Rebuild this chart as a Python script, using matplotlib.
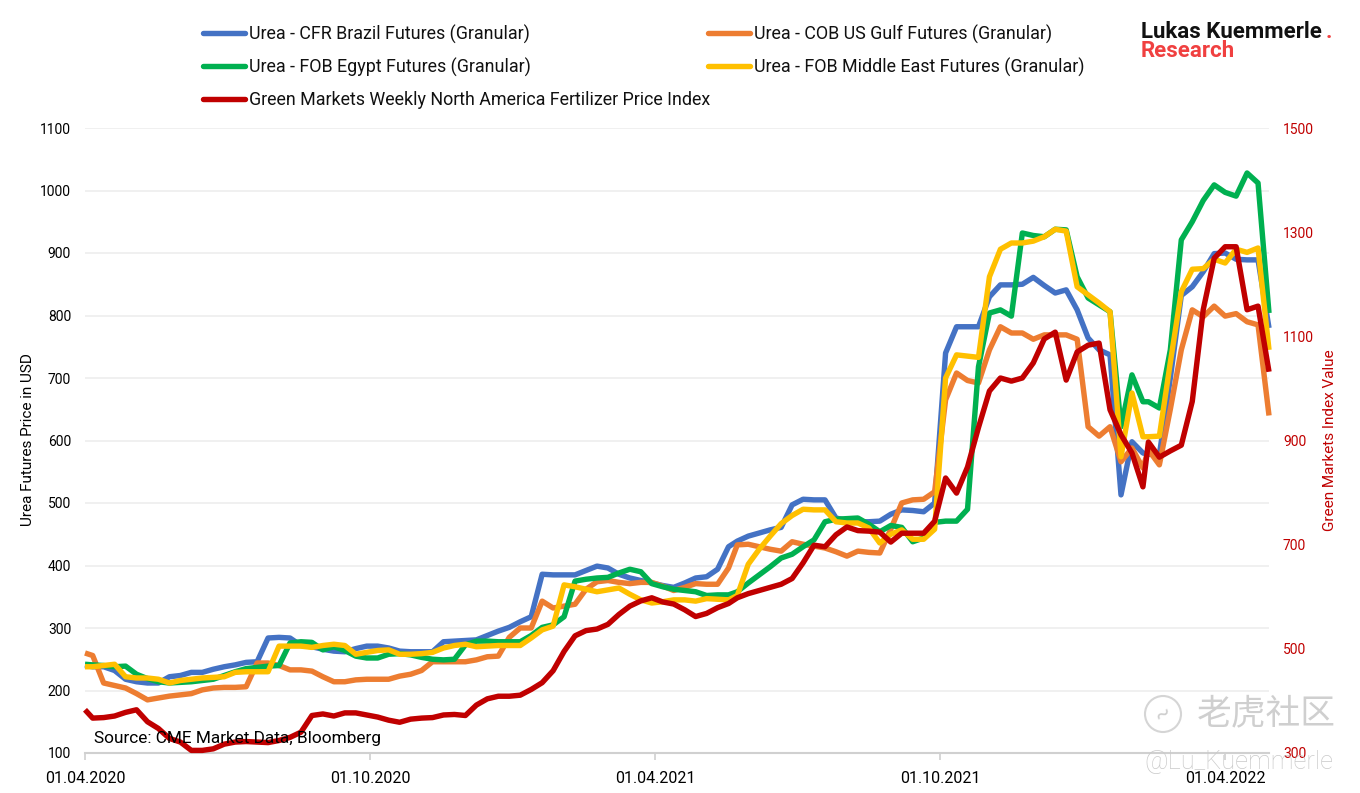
import numpy as np
import matplotlib
matplotlib.use("Agg")
import matplotlib.pyplot as plt
from matplotlib.lines import Line2D
from matplotlib.patches import Ellipse

plt.rcParams['font.family'] = ['Roboto', 'DejaVu Sans']

# weekly values
cfr_brazil = [240,238,238,232,218,214,212,212,222,224,229,229,234,238,241,245,246,284,285,284,
              272,270,266,263,262,267,271,271,268,263,262,262,262,278,279,280,281,288,295,301,
              310,318,386,385,385,385,392,399,396,386,380,376,372,368,365,372,380,382,394,430,
              439,447,452,457,461,497,506,505,505,476,472,470,470,471,482,489,488,486,500,740,
              782,782,782,830,849,849,850,861,848,836,841,809,764,745,737,513,598,580,578,577,
              700,832,846,870,899,900,890,889,889,780]
cob_gulf = [260,256,212,208,204,195,185,188,191,193,195,201,204,205,205,206,244,244,240,233,
            233,231,222,214,214,217,218,218,218,223,226,232,246,246,246,246,249,254,255,285,
            300,300,343,332,335,338,362,374,376,373,371,373,373,367,360,365,371,370,370,396,
            433,434,430,426,423,438,434,431,428,422,415,423,421,420,458,500,505,506,518,665,
            708,696,692,745,782,772,772,762,769,769,769,762,622,607,622,566,588,556,585,561,
            650,745,809,798,815,799,803,790,785,640]
fob_egypt = [242,241,240,238,239,226,219,214,212,213,214,216,218,224,230,235,237,239,240,276,
             278,277,265,270,264,255,252,252,258,259,257,253,250,249,250,273,279,279,278,278,
             278,288,301,305,318,375,378,380,381,388,394,390,371,366,362,360,358,352,353,353,
             358,372,385,398,412,418,430,441,470,474,475,476,466,454,464,461,438,444,469,471,
             471,490,718,804,809,799,932,928,926,938,937,862,828,817,806,622,705,662,662,652,
             745,921,950,984,1009,997,991,1028,1012,804]
fob_mideast = [238,238,240,242,222,220,220,218,212,216,218,220,221,222,229,230,230,230,271,271,
               271,269,272,274,272,258,261,264,265,258,258,259,261,268,272,274,270,271,272,272,
               272,284,297,303,369,366,362,358,361,364,354,345,340,342,345,345,343,347,346,345,
               352,402,426,447,467,480,490,489,489,470,468,468,460,436,450,457,442,442,458,700,
               737,735,733,862,906,916,916,919,926,938,935,846,833,820,806,574,676,606,606,607,
               725,838,874,875,890,884,906,901,908,745]
gm_index = [383,367,368,371,378,383,360,347,328,321,305,305,308,317,321,322,321,320,324,330,
            340,372,375,371,377,377,373,369,363,359,365,367,368,373,374,372,392,404,409,409,
            411,422,435,458,495,525,535,538,547,566,582,592,598,590,586,575,562,568,579,587,
            598,606,612,618,624,635,665,699,696,719,734,727,726,724,705,722,722,722,745,828,
            799,849,925,995,1020,1014,1020,1049,1095,1108,1016,1070,1083,1087,959,911,876,811,897,868,
            880,891,975,1151,1250,1272,1272,1151,1158,1032]

# the series are not quite evenly spaced against the date ticks
week_pos = np.r_[0, np.arange(1, 60) - 0.3, np.arange(60, 98) - 0.5, 97, np.arange(99, 110) - 1]

tick_weeks = [0, 26, 52, 78, 104]
tick_dates = ["01.04.2020", "01.10.2020", "01.04.2021", "01.10.2021", "01.04.2022"]
left_ticks = list(range(100, 1101, 100))
right_ticks = list(range(300, 1501, 200))

names = ["Urea - CFR Brazil Futures (Granular)", "Urea - COB US Gulf Futures (Granular)",
         "Urea - FOB Egypt Futures (Granular)", "Urea - FOB Middle East Futures (Granular)",
         "Green Markets Weekly North America Fertilizer Price Index"]
colors = ["#4472C4", "#ED7D31", "#00B050", "#FFC000", "#C00000"]
lw = 3.9
W, H = 1360., 793.

fig = plt.figure(figsize=(13.6, 7.93), dpi=100)
ax = fig.add_axes([85 / W, 1 - 753 / H, (1269 - 85) / W, (753 - 128) / H])

for y, c in zip([cfr_brazil, cob_gulf, fob_egypt, fob_mideast], colors):
    ax.plot(week_pos, y, color=c, lw=lw, solid_joinstyle='round', solid_capstyle='butt', clip_on=False, zorder=3)
ax.set_xlim(0, 108)
ax.set_ylim(100, 1100)
ax.set_yticks(left_ticks)
ax.set_xticks(tick_weeks)
ax.set_xticklabels(tick_dates)
ax.grid(axis='y', color='#efefef', lw=1.3)
ax.set_axisbelow(True)
for s in ['top', 'left', 'right']:
    ax.spines[s].set_visible(False)
ax.spines['bottom'].set_color('#d0d0d0')
ax.spines['bottom'].set_linewidth(1.5)
ax.tick_params(axis='y', length=0, labelsize=10, pad=10)
ax.tick_params(axis='x', length=5, color='#d0d0d0', width=1.2, labelsize=11.5, pad=8)

ax2 = ax.twinx()
ax2.plot(week_pos, gm_index, color=colors[4], lw=lw, solid_joinstyle='round', solid_capstyle='butt', clip_on=False)
ax2.set_ylim(300, 1500)
ax2.set_yticks(right_ticks)
ax2.tick_params(axis='y', length=0, labelsize=10, labelcolor='#C00000', pad=10)
for s in ax2.spines.values():
    s.set_visible(False)

def fx(px):
    return px / W

def fy(py):
    return 1 - py / H

# legend, laid out by hand like the original's two columns
rows = [(203, 33, 0), (708, 33, 1), (203, 66, 2), (708, 66, 3), (203, 99, 4)]
for px, py, k in rows:
    fig.add_artist(Line2D([fx(px), fx(px + 42)], [fy(py), fy(py)], color=colors[k], lw=lw,
                          solid_capstyle='round'))
    fig.text(fx(px + 46), fy(py + 1), names[k], fontsize=12.9, va='center', ha='left', color='#111111')

fig.text(fx(28), fy(440), "Urea Futures Price in USD", rotation=90, fontsize=11, va='center', ha='center')
fig.text(fx(1330), fy(440), "Green Markets Index Value", rotation=90, fontsize=11, va='center', ha='center',
         color='#C00000')
fig.text(fx(94), fy(738), "Source: CME Market Data, Bloomberg", fontsize=12.4, va='center', ha='left', zorder=10)

# logo
fig.text(fx(1141), fy(38), "Lukas Kuemmerle", fontsize=16, fontweight='bold', va='baseline', ha='left', color='#111111')
fig.text(fx(1326), fy(38), ".", fontsize=16, fontweight='bold', va='baseline', ha='left', color='#F04040')
fig.text(fx(1141), fy(57), "Research", fontsize=16, fontweight='bold', va='baseline', ha='left', color='#F04040')

# watermark
fig.add_artist(Ellipse((fx(1163), fy(714)), 36 / W, 36 / H, fill=False, ec='#d5d5d5', lw=1.5))
fig.text(fx(1163), fy(714), "~", fontsize=17, color='#cfcfcf', va='center', ha='center', rotation=35)
fig.text(fx(1197), fy(714), "老虎社区", fontsize=25, color='#cfcfcf', va='center', ha='left',
         family=['Noto Sans CJK SC', 'DejaVu Sans'])
fig.text(fx(1144), fy(762), "@Lu_Kuemmerle", fontsize=18.3, color='#c9c9c9', va='center', ha='left', fontweight='light',
         zorder=10)

fig.savefig("out.png", dpi=100)
